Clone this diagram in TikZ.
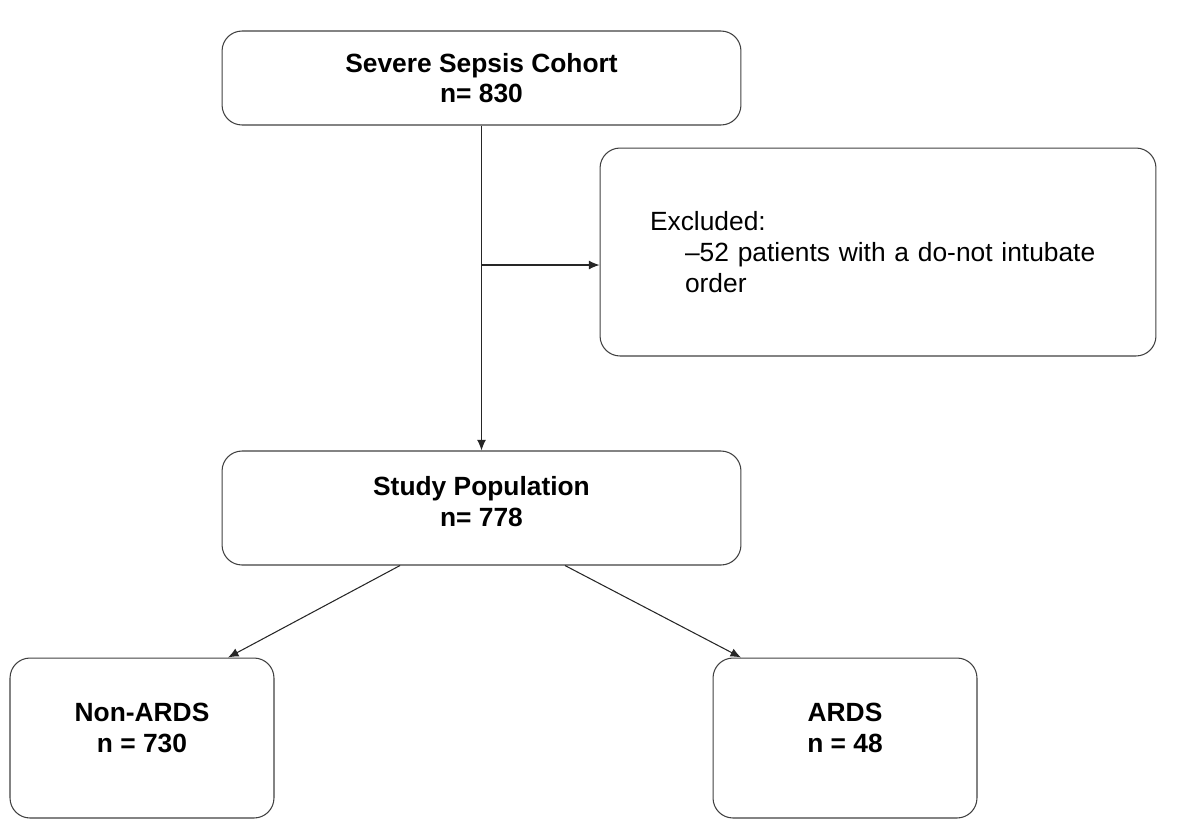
\documentclass[tikz,border=0pt]{standalone}
\usepackage{fontspec}
\setmainfont{Liberation Sans}
\usetikzlibrary{arrows.meta}

\begin{document}
\begin{tikzpicture}[x=0.02cm, y=-0.02cm,
        box/.style = {draw=black!75, rounded corners=0.4cm, line width=0.6pt, align=center, font=\fontsize{15}{17.5}\selectfont\bfseries},
        link/.style = {-{Latex[length=6pt,width=5pt]}, line width=0.6pt, draw=black!85}]
        \useasboundingbox (0,0) rectangle (1183,819);
        \node[box, minimum width=10.38cm, minimum height=1.88cm] (cohort) at (481.5,78) {Severe Sepsis Cohort\\n= 830};
        \node[box, font=\fontsize{15}{17.5}\selectfont, align=left, text width=9.12cm, inner xsep=1cm, minimum height=4.16cm] (excl) at (878,252) {Excluded:\\\hspace*{0.7cm}--52 patients with a do-not intubate\\\hspace*{0.7cm}order};
        \node[box, minimum width=10.38cm, minimum height=2.28cm] (study) at (481.5,508) {Study Population\\n= 778\\[-0.36cm]\mbox{}};
        \node[box, minimum width=5.28cm, minimum height=3.2cm] (nonards) at (142,738) {Non-ARDS\\n = 730\\[-0.2cm]\mbox{}};
        \node[box, minimum width=5.28cm, minimum height=3.2cm] (ards) at (845,738) {ARDS\\n = 48\\[-0.2cm]\mbox{}};
        \coordinate (split) at (481.5,265);
        \draw [link] (cohort) -- (study);
        \draw [link] (split) -- (split -| excl.west);
        \draw [link] ([xshift=-1.63cm]study.south) -- ([xshift=1.72cm]nonards.north);
        \draw [link] ([xshift=1.67cm]study.south) -- ([xshift=-2.08cm]ards.north);
    \end{tikzpicture}
\end{document}
